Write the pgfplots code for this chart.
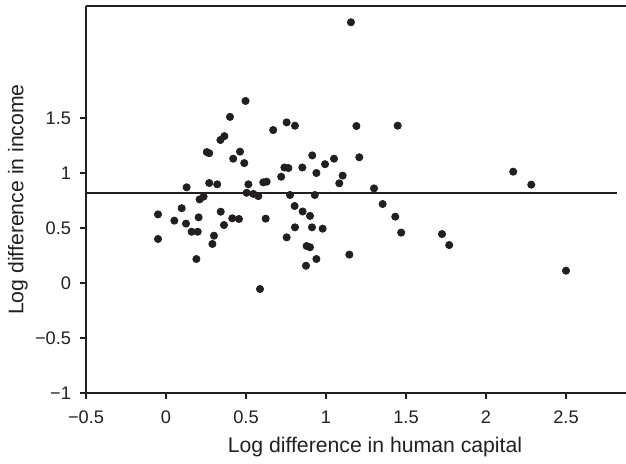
\documentclass[border=0pt]{standalone}
\usepackage{fontspec}
\setmainfont{Liberation Sans}
\usepackage{pgfplots}
\pgfplotsset{compat=1.18}
\definecolor{ink}{RGB}{35,31,32}
\begin{document}
\begin{tikzpicture}
\begin{axis}[name=ax, scale only axis, width=270pt, height=193.5pt,
  xmin=-0.5, xmax=2.875, ymin=-1, ymax=2.518,
  axis x line=box, axis y line=left,
  axis line style={-, line width=1pt, ink},
  xtick pos=bottom, ytick pos=left,
  tick align=outside, major tick length=3pt,
  tick style={line width=0.7pt, ink},
  xtick={-0.5,0,0.5,1,1.5,2,2.5},
  xticklabels={−0.5,0,0.5,1,1.5,2,2.5},
  ytick={-1,-0.5,0,0.5,1,1.5},
  yticklabels={−1,−0.5,0,0.5,1,1.5},
  ticklabel style={font=\fontsize{9.1}{11}\selectfont, text=ink},
  xticklabel style={yshift=-2.5pt},
  yticklabel style={xshift=-1pt},
  xlabel={Log difference in human capital},
  ylabel={Log difference in income},
  label style={font=\fontsize{10.6}{12}\selectfont, text=ink},
  xlabel style={at={(axis cs:1.306,-1)}, anchor=center, yshift=-27pt},
  ylabel style={at={(axis description cs:0,0.5)}, anchor=center, yshift=34pt},
  clip=false,
]
\addplot[no marks, line width=1pt, ink] coordinates {(-0.5,0.815) (2.82,0.815)};
\addplot[only marks, mark=*, mark size=1.8pt, ink] table {
x y
0.497 1.655
0.40 1.51
0.34 1.30
0.365 1.335
0.255 1.19
0.27 1.18
0.4625 1.194
0.42 1.13
0.489 1.09
0.67 1.39
0.754 1.46
0.806 1.43
0.129 0.87
0.27 0.909
0.32 0.897
0.515 0.897
0.608 0.915
0.629 0.921
0.72 0.966
0.74 1.05
0.765 1.045
0.852 1.05
0.94 1.0
0.914 1.16
0.21 0.76
0.235 0.785
0.504 0.82
0.546 0.81
0.577 0.79
0.775 0.80
0.93 0.80
0.804 0.70
0.854 0.65
0.90 0.61
-0.05 0.624
0.098 0.68
0.052 0.567
0.125 0.54
0.204 0.597
0.342 0.648
0.3625 0.527
0.414 0.588
0.456 0.582
0.623 0.585
0.16 0.466
0.198 0.466
-0.05 0.40
0.30 0.43
0.29 0.355
0.754 0.415
0.806 0.506
0.9125 0.506
0.979 0.494
0.19 0.218
0.5875 -0.055
0.879 0.336
0.90 0.325
0.875 0.157
0.94 0.218
1.146 0.258
1.47 0.458
1.725 0.445
1.77 0.345
2.50 0.112
1.156 2.37
1.19 1.427
1.448 1.43
0.994 1.08
1.05 1.13
1.104 0.976
1.083 0.906
1.208 1.143
1.30 0.86
2.17 1.012
2.283 0.894
1.354 0.718
1.433 0.603
};
\end{axis}
\pgfresetboundingbox
\path[use as bounding box] ([xshift=-43pt,yshift=-35pt]ax.south west) rectangle ([yshift=3pt]ax.north east);
\end{tikzpicture}
\end{document}
